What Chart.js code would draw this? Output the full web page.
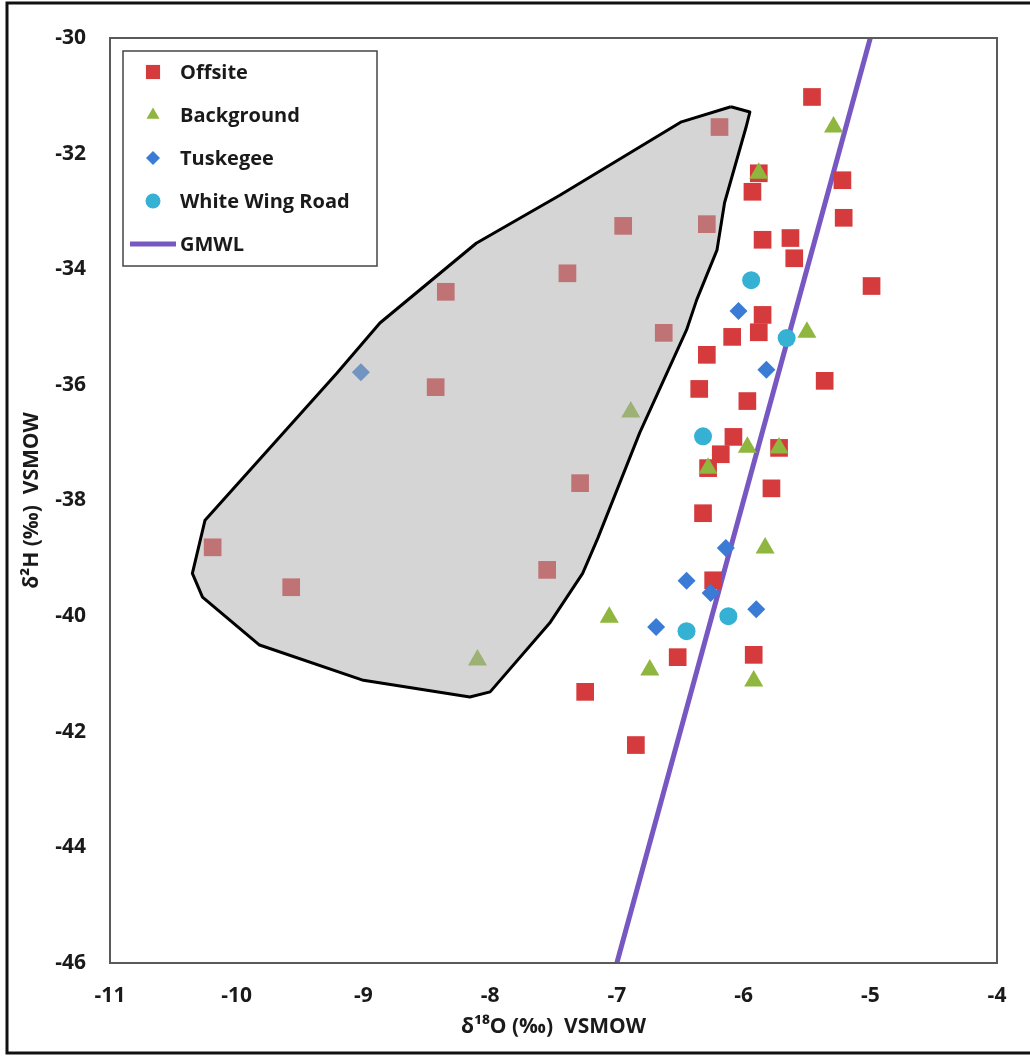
<!DOCTYPE html>
<html>
<head>
<meta charset="utf-8">
<script src="https://cdn.jsdelivr.net/npm/chart.js@4.4.1/dist/chart.umd.min.js"></script>
<style>
  html, body { margin: 0; padding: 0; background: #fff; }
  #wrap { width: 1030px; height: 1057px; position: relative; }
</style>
</head>
<body>
<div id="wrap"><canvas id="isoChart" width="1030" height="1057"></canvas></div>
<script>
// values (δ18O, δ2H in ‰ VSMOW)
const offsiteX = [-5.46, -5.22, -5.21, -4.99, -5.36, -5.93, -5.88, -5.85, -5.63, -5.60, -5.85, -5.88, -6.09, -6.29,
  -5.97, -6.35, -6.08, -6.18, -6.28, -5.72, -5.78, -6.32, -6.24, -5.92, -6.52, -7.25, -6.85,
  -6.19, -6.29, -6.95, -7.39, -8.35, -6.63, -8.43, -7.29, -7.55, -9.57, -10.19];
const offsiteY = [-31.02, -32.46, -33.11, -34.29, -35.93, -32.66, -32.34, -33.49, -33.46, -33.81, -34.79, -35.09, -35.17, -35.48,
  -36.28, -36.07, -36.90, -37.20, -37.44, -37.09, -37.79, -38.22, -39.38, -40.67, -40.71, -41.31, -42.23,
  -31.54, -33.22, -33.25, -34.07, -34.39, -35.10, -36.04, -37.70, -39.20, -39.50, -38.81];

const backgroundX = [-5.29, -5.88, -5.50, -6.89, -5.97, -5.72, -6.28, -5.83, -7.06, -6.74, -5.92, -8.10];
const backgroundY = [-31.54, -32.34, -35.09, -36.47, -37.08, -37.09, -37.44, -38.82, -40.02, -40.93, -41.12, -40.76];

const tuskegeeX = [-6.04, -5.82, -6.14, -6.45, -6.26, -5.90, -6.69, -9.02];
const tuskegeeY = [-34.72, -35.74, -38.82, -39.39, -39.60, -39.88, -40.19, -35.78];

const wwrX = [-5.94, -5.66, -6.32, -6.12, -6.45];
const wwrY = [-34.19, -35.19, -36.89, -40.00, -40.26];

// global meteoric water line, end points
const gmwlX = [-7, -5];
const gmwlY = [-46, -30];

// outline of the shaded group
const shapeX = [-6.10, -5.95, -5.98, -6.15, -6.21, -6.37, -6.45, -6.82, -7.15, -7.27, -7.53, -8.00, -8.16,
  -9.00, -9.82, -10.27, -10.35, -10.25, -9.21, -8.87, -8.11, -7.45, -6.49, -6.10];
const shapeY = [-31.19, -31.28, -31.54, -32.85, -33.67, -34.53, -35.05, -36.83, -38.65, -39.26, -40.12, -41.31, -41.40,
  -41.11, -40.50, -39.67, -39.26, -38.34, -35.80, -34.93, -33.55, -32.72, -31.45, -31.19];

const xTicks = [-11, -10, -9, -8, -7, -6, -5, -4];
const yTicks = [-30, -32, -34, -36, -38, -40, -42, -44, -46];

const pts = (xs, ys) => xs.map((x, i) => ({ x: x, y: ys[i] }));

Chart.defaults.font.family = "'Open Sans', 'DejaVu Sans', sans-serif";
Chart.defaults.color = '#1a1a1a';

// border round plot, outer frame, boxed legend
const framePlugin = {
  id: 'framePlugin',
  afterDraw(chart) {
    const { ctx, chartArea } = chart;
    ctx.save();
    ctx.strokeStyle = '#5a5a5a';
    ctx.lineWidth = 2;
    ctx.strokeRect(chartArea.left, chartArea.top, chartArea.right - chartArea.left, chartArea.bottom - chartArea.top);

    ctx.strokeStyle = '#111';
    ctx.lineWidth = 3;
    ctx.beginPath();
    ctx.moveTo(1040, 3);
    ctx.lineTo(7, 3);
    ctx.lineTo(7, 1053);
    ctx.lineTo(1040, 1053);
    ctx.stroke();

    // legend
    const x0 = chartArea.left + 13, y0 = chartArea.top + 13;
    ctx.fillStyle = '#fff';
    ctx.fillRect(x0, y0, 254, 215);
    ctx.strokeStyle = '#444';
    ctx.lineWidth = 1.5;
    ctx.strokeRect(x0, y0, 254, 215);
    ctx.font = "bold 20px 'Open Sans'";
    ctx.textBaseline = 'middle';
    chart.data.datasets.filter(ds => ds.inLegend).forEach((ds, i) => {
      const cy = y0 + 21 + i * 43;
      const cx = x0 + 30;
      if (ds.pointStyle === 'line') {
        ctx.strokeStyle = ds.borderColor;
        ctx.lineWidth = 5;
        ctx.beginPath();
        ctx.moveTo(x0 + 7, cy);
        ctx.lineTo(x0 + 53, cy);
        ctx.stroke();
      } else {
        ctx.fillStyle = ds.backgroundColor;
        Chart.helpers.drawPoint(ctx, { pointStyle: ds.pointStyle, radius: ds.legendRadius, rotation: 0, borderWidth: 0 }, cx, cy);
      }
      ctx.fillStyle = '#1a1a1a';
      ctx.fillText(ds.label, x0 + 57, cy + 1);
    });
    ctx.restore();
  }
};

new Chart(document.getElementById('isoChart'), {
  type: 'scatter',
  data: {
    datasets: [
      {
        label: 'Offsite', data: pts(offsiteX, offsiteY), inLegend: true, order: 4,
        pointStyle: 'rect', pointRadius: 12.5, legendRadius: 10,
        backgroundColor: '#d53a3d', borderColor: '#d53a3d', borderWidth: 0
      },
      {
        label: 'Background', data: pts(backgroundX, backgroundY), inLegend: true, order: 3,
        pointStyle: 'triangle', pointRadius: 11, legendRadius: 7.5,
        backgroundColor: '#8fb63e', borderColor: '#8fb63e', borderWidth: 0
      },
      {
        label: 'Tuskegee', data: pts(tuskegeeX, tuskegeeY), inLegend: true, order: 2,
        pointStyle: 'rectRot', pointRadius: 9, legendRadius: 7,
        backgroundColor: '#3a7bd5', borderColor: '#3a7bd5', borderWidth: 0
      },
      {
        label: 'White Wing Road', data: pts(wwrX, wwrY), inLegend: true, order: 1,
        pointStyle: 'circle', pointRadius: 9, legendRadius: 7.5,
        backgroundColor: '#35b1d4', borderColor: '#35b1d4', borderWidth: 0
      },
      {
        label: 'GMWL', data: pts(gmwlX, gmwlY), inLegend: true, order: 5,
        type: 'line', showLine: true, pointRadius: 0, pointStyle: 'line',
        borderColor: '#7758c2', borderWidth: 5, fill: false
      },
      {
        label: '', data: pts(shapeX, shapeY), inLegend: false, order: 0,
        type: 'line', showLine: true, pointRadius: 0, tension: 0,
        borderColor: '#000', borderWidth: 3, borderJoinStyle: 'round',
        backgroundColor: 'rgba(172, 172, 172, 0.5)', fill: 'shape'
      }
    ]
  },
  options: {
    responsive: false,
    animation: false,
    events: [],
    layout: { padding: { top: 38, right: 33, left: 0, bottom: 0 } },
    plugins: {
      legend: { display: false },
      tooltip: { enabled: false }
    },
    scales: {
      x: {
        type: 'linear', min: -11, max: -4,
        afterBuildTicks(scale) { scale.ticks = xTicks.map(v => ({ value: v })); },
        afterFit(scale) { scale.height = 94; },
        grid: { display: false, drawTicks: false },
        border: { display: false },
        ticks: { color: '#1a1a1a', font: { size: 21, weight: 'bold' }, padding: 20, maxRotation: 0 },
        title: {
          display: true, text: 'δ¹⁸O (‰)  VSMOW', color: '#1a1a1a',
          font: { size: 21, weight: 'bold' }, padding: { top: 0, bottom: 17 }
        }
      },
      y: {
        type: 'linear', min: -46, max: -30,
        afterBuildTicks(scale) { scale.ticks = yTicks.map(v => ({ value: v })); },
        afterFit(scale) { scale.width = 110; },
        grid: { display: false, drawTicks: false },
        border: { display: false },
        ticks: { color: '#1a1a1a', font: { size: 21, weight: 'bold' }, padding: 24 },
        title: {
          display: true, text: 'δ²H (‰)  VSMOW', color: '#1a1a1a',
          font: { size: 21, weight: 'bold' }, padding: { top: 19, bottom: 0 }
        }
      }
    }
  },
  plugins: [framePlugin]
});
</script>
</body>
</html>
